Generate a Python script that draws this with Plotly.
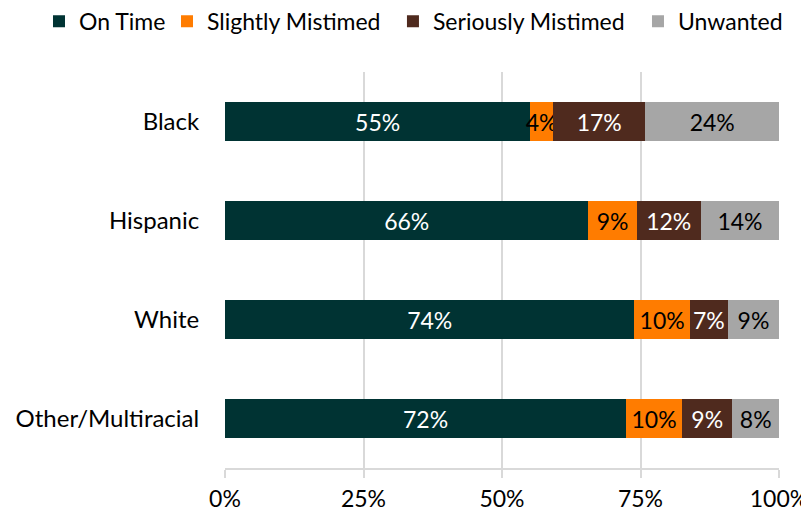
import plotly.graph_objects as go

categories = ["Black", "Hispanic", "White", "Other/Multiracial"]
series_names = ["On Time", "Slightly Mistimed", "Seriously Mistimed", "Unwanted"]
on_time = [55.1, 65.6, 73.9, 72.4]
slightly = [4.1, 8.7, 10.0, 10.1]
seriously = [16.7, 11.6, 6.9, 9.1]
unwanted = [24.1, 14.1, 9.2, 8.4]
tick_vals = [0, 25, 50, 75, 100]
tick_text = ["0%", "25%", "50%", "75%", "100%"]

colors = ["#003333", "#FF7C00", "#4F2A1E", "#A6A6A6"]
text_colors = ["white", "black", "white", "black"]
legend_ids = ["legend", "legend2", "legend3", "legend4"]
legend_x = [0.0387, 0.1985, 0.4806, 0.7865]
FONT = "Lato, Open Sans, sans-serif"

fig = go.Figure()
for name, vals, c, tc, lid in zip(series_names, [on_time, slightly, seriously, unwanted],
                                  colors, text_colors, legend_ids):
    fig.add_trace(go.Bar(
        y=categories, x=vals, name=name, orientation="h",
        marker=dict(color=c, line=dict(width=0)),
        texttemplate="%{x:.0f}%", textposition="inside", textangle=0,
        constraintext="none", insidetextanchor="middle",
        textfont=dict(color=tc, size=23, family=FONT),
        legend=lid,
    ))

legend_layout = {}
for lid, lx in zip(legend_ids, legend_x):
    legend_layout[lid] = dict(
        orientation="h", x=lx, xref="container", xanchor="left",
        y=1.128, yref="paper", yanchor="middle",
        font=dict(size=23, family=FONT), itemwidth=30, bgcolor="rgba(0,0,0,0)",
    )

fig.update_layout(
    barmode="stack", bargap=0.6,
    width=801, height=508,
    margin=dict(l=217, r=30, t=64, b=48, autoexpand=False),
    plot_bgcolor="white", paper_bgcolor="white",
    font=dict(family=FONT, size=24, color="black"),
    showlegend=True,
    xaxis=dict(range=[0, 100], tickvals=tick_vals, ticktext=tick_text,
               showgrid=True, gridcolor="#D9D9D9", gridwidth=1.5,
               showline=True, linecolor="#D9D9D9", linewidth=1.5,
               ticks="outside", ticklen=8, tickcolor="#D9D9D9", tickwidth=1.5,
               ticklabelstandoff=2, tickfont=dict(size=23),
               ticklabeloverflow="allow",
               zeroline=False, fixedrange=True, automargin=False),
    yaxis=dict(autorange="reversed", showgrid=False, showline=False,
               ticks="outside", ticklen=20, tickcolor="rgba(0,0,0,0)",
               tickfont=dict(size=24),
               zeroline=False, fixedrange=True, automargin=False),
    **legend_layout,
)

fig.write_html("out.html")
